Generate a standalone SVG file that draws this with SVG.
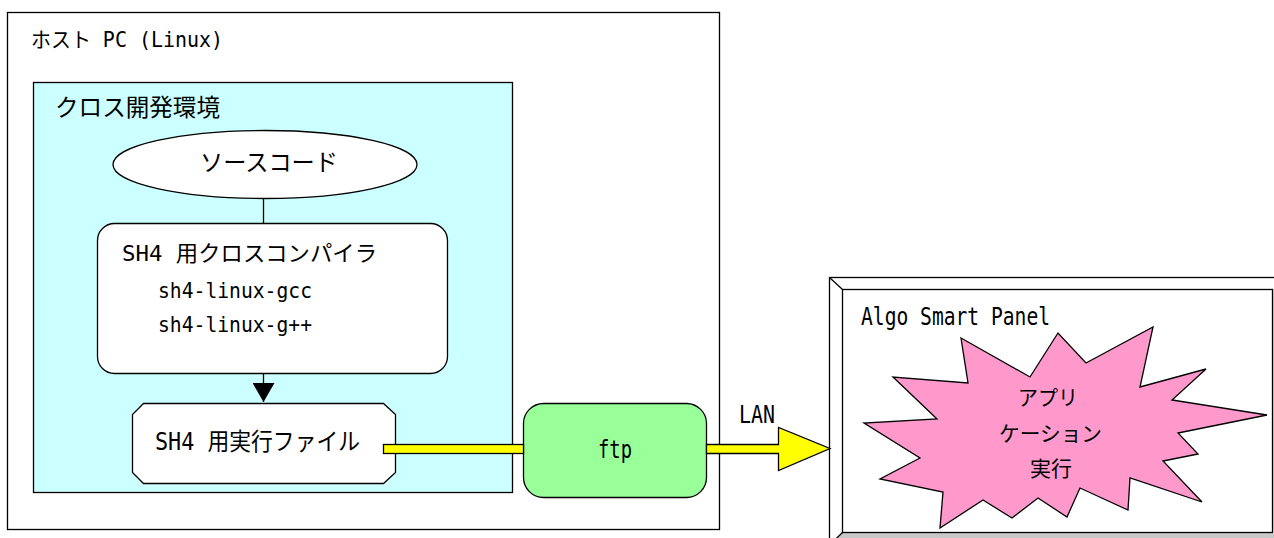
<svg xmlns="http://www.w3.org/2000/svg" width="1274" height="538" viewBox="0 0 1274 538">
<style>
text{font-family:"DejaVu Sans Mono","Noto Sans CJK JP",monospace;fill:#000}
.s{stroke:#000;stroke-width:1.3}
.t24{font-size:24px}
.t22{font-size:22px}
.t20{font-size:21px}
</style>
<defs>
<marker id="tri" markerWidth="22" markerHeight="20" refX="11" refY="19" orient="0" markerUnits="userSpaceOnUse" viewBox="0 0 22 20">
<path d="M0,0 L22,0 L11,19 Z" fill="#000"/>
</marker>
</defs>
<rect width="1274" height="538" fill="#fff"/>

<g id="host">
<rect x="7.5" y="12.5" width="712" height="517" fill="#fff" class="s"/>
<text x="31" y="47" class="t20" textLength="192" lengthAdjust="spacingAndGlyphs">ホスト PC (Linux)</text>
</g>

<g id="cross-env">
<rect x="33.5" y="82.5" width="479" height="410" fill="#CCFFFF" class="s"/>
<text x="55" y="116" class="t24" textLength="165" lengthAdjust="spacingAndGlyphs">クロス開発環境</text>
</g>

<g id="source">
<ellipse cx="265" cy="164.5" rx="152" ry="34" fill="#fff" class="s"/>
<text x="200" y="171" class="t24" textLength="138" lengthAdjust="spacingAndGlyphs">ソースコード</text>
</g>

<g id="compiler">
<rect x="97.5" y="223.5" width="350" height="150" rx="17" fill="#fff" class="s"/>
<text x="122" y="261" class="t22" textLength="255" lengthAdjust="spacingAndGlyphs">SH4 用クロスコンパイラ</text>
<text x="158" y="298" class="t22" textLength="154" lengthAdjust="spacingAndGlyphs">sh4-linux-gcc</text>
<text x="158" y="332" class="t22" textLength="154" lengthAdjust="spacingAndGlyphs">sh4-linux-g++</text>
</g>

<g id="executable">
<polygon points="143.5,403.5 383.5,403.5 395.5,414.5 395.5,472.5 383.5,483.5 143.5,483.5 132.5,472.5 132.5,414.5" fill="#fff" class="s"/>
<text x="155" y="450" class="t24" textLength="205" lengthAdjust="spacingAndGlyphs">SH4 用実行ファイル</text>
</g>

<g id="ftp">
<rect x="523.5" y="403.5" width="183" height="94" rx="20" fill="#99FF99" class="s"/>
<text x="598" y="458" class="t24" textLength="34" lengthAdjust="spacingAndGlyphs">ftp</text>
</g>

<g id="panel">
<rect x="829.5" y="277.5" width="460" height="280" fill="#fff" class="s"/>
<polygon points="842,532 1272,532 1290,550 829,550" fill="#C8C8C8"/>
<polygon points="1272,289 1290,277 1290,550 1272,532" fill="#E0E0E0"/>
<rect x="842.5" y="289.5" width="430" height="243" fill="#fff" class="s"/>
<line x1="829.5" y1="277.5" x2="842.5" y2="289.5" class="s"/>
<line x1="829.5" y1="545" x2="842.5" y2="532.5" class="s"/>
<text x="861" y="325" class="t24" textLength="189" lengthAdjust="spacingAndGlyphs">Algo Smart Panel</text>
</g>

<g id="app">
<polygon points="961,338 1030,377 1058,333 1086,363 1153,327 1140,387 1206,369 1172,400 1267,415 1178,433 1198,454 1163,461 1202,502 1130,478 1128,510 1080,488 1067,517 1038,498 1012,518 983,500 940,528 943,492 880,479 920,458 864,423 937,419 893,377 968,383" fill="#FF99CC" class="s"/>
<text x="1018" y="405" class="t20" textLength="60" lengthAdjust="spacingAndGlyphs">アプリ</text>
<text x="999" y="441" class="t20" textLength="103" lengthAdjust="spacingAndGlyphs">ケーション</text>
<text x="1030" y="476" class="t20" textLength="42" lengthAdjust="spacingAndGlyphs">実行</text>
</g>

<g id="connectors">
<line x1="263.5" y1="198" x2="263.5" y2="223" class="s" stroke-width="2"/>
<line x1="263.5" y1="374" x2="263.5" y2="402" class="s" stroke-width="2" marker-end="url(#tri)"/>
<rect x="383.5" y="444.5" width="140" height="9" fill="#FFFF00" class="s"/>
<polygon points="706.5,444.5 778.5,444.5 778.5,427.5 830,448.5 778.5,470.5 778.5,453.5 706.5,453.5" fill="#FFFF00" class="s"/>
<text x="739" y="423" class="t24" textLength="36" lengthAdjust="spacingAndGlyphs">LAN</text>
</g>
</svg>
